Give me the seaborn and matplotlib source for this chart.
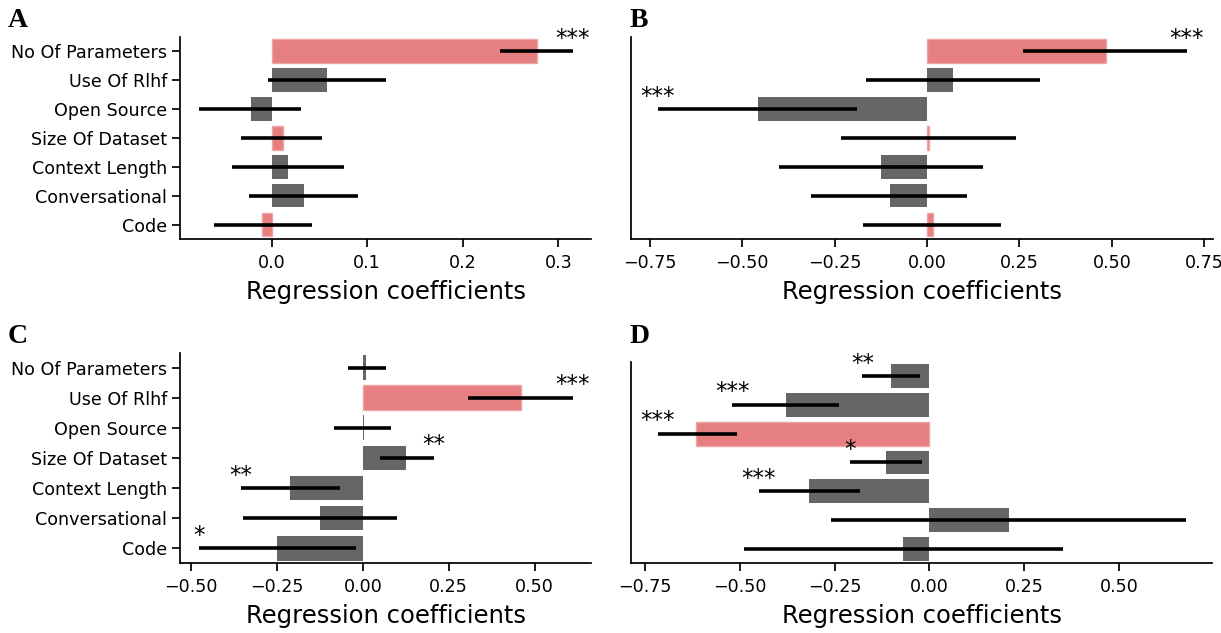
import numpy as np
import pandas as pd
import matplotlib
matplotlib.use("Agg")
import matplotlib.pyplot as plt
from matplotlib.ticker import MultipleLocator
import seaborn as sns

predictors = ["No Of Parameters", "Use Of Rlhf", "Open Source", "Size Of Dataset",
              "Context Length", "Conversational", "Code"]

# Panel A
a_coef = [0.278, 0.058, -0.022, 0.012, 0.017, 0.034, -0.010]
a_low = [0.239, -0.004, -0.076, -0.032, -0.041, -0.024, -0.060]
a_high = [0.315, 0.120, 0.031, 0.053, 0.076, 0.090, 0.042]
a_stars = ["***", "", "", "", "", "", ""]
a_red = ["No Of Parameters", "Size Of Dataset", "Code"]

# Panel B
b_coef = [0.484, 0.070, -0.456, 0.006, -0.124, -0.101, 0.015]
b_low = [0.259, -0.166, -0.728, -0.232, -0.400, -0.314, -0.173]
b_high = [0.702, 0.305, -0.188, 0.240, 0.152, 0.108, 0.201]
b_stars = ["***", "", "***", "", "", "", ""]
b_red = ["No Of Parameters", "Size Of Dataset", "Code"]

# Panel C
c_coef = [0.010, 0.461, 0.002, 0.127, -0.212, -0.125, -0.250]
c_low = [-0.044, 0.307, -0.085, 0.049, -0.356, -0.350, -0.477]
c_high = [0.066, 0.611, 0.083, 0.206, -0.067, 0.099, -0.020]
c_stars = ["", "***", "", "**", "**", "", "*"]
c_red = ["Use Of Rlhf"]

# Panel D
d_coef = [-0.101, -0.379, -0.615, -0.115, -0.318, 0.210, -0.070]
d_low = [-0.177, -0.521, -0.717, -0.209, -0.450, -0.261, -0.490]
d_high = [-0.026, -0.238, -0.508, -0.019, -0.183, 0.676, 0.353]
d_stars = ["**", "***", "***", "*", "***", "", ""]
d_red = ["Open Source"]

panel_letters = ["A", "B", "C", "D"]
tick_steps = [0.1, 0.25, 0.25, 0.25]

RED = "#E67F80"
RED_EDGE = "#EFA5A5"
GRAY = "#666666"

sns.set_theme(style="ticks")
plt.rcParams["font.family"] = ["DejaVu Sans"]
plt.rcParams["axes.edgecolor"] = "black"
plt.rcParams["axes.linewidth"] = 1.25
plt.rcParams["xtick.color"] = "black"
plt.rcParams["ytick.color"] = "black"
plt.rcParams["xtick.major.width"] = 1.25
plt.rcParams["ytick.major.width"] = 1.25
plt.rcParams["xtick.major.size"] = 6
plt.rcParams["ytick.major.size"] = 6
plt.rcParams["xtick.major.pad"] = 4.5

W, H = 1221, 633
fig = plt.figure(figsize=(W / 100, H / 100), dpi=100)

def rect(left, right, top, bottom):
    return [left / W, 1 - bottom / H, (right - left) / W, (bottom - top) / H]

axes = [
    fig.add_axes(rect(180.3, 591.4, 36.7, 239.0)),
    fig.add_axes(rect(631.4, 1213.0, 36.7, 239.0)),
    fig.add_axes(rect(180.3, 591.4, 352.5, 563.3)),
    fig.add_axes(rect(631.4, 1212.0, 361.7, 563.3)),
]

panels = [
    (a_coef, a_low, a_high, a_stars, a_red, True),
    (b_coef, b_low, b_high, b_stars, b_red, False),
    (c_coef, c_low, c_high, c_stars, c_red, True),
    (d_coef, d_low, d_high, d_stars, d_red, False),
]

for ax, step, (coef, low, high, stars, red, show_y) in zip(axes, tick_steps, panels):
    df = pd.DataFrame({"predictor": predictors, "coef": coef,
                       "low": low, "high": high, "stars": stars})
    palette = {p: (RED if p in red else GRAY) for p in predictors}
    sns.barplot(data=df, x="coef", y="predictor", hue="predictor",
                palette=palette, order=predictors, hue_order=predictors,
                orient="h", legend=False, saturation=1, width=0.82,
                errorbar=None, ax=ax)
    for p in ax.patches:
        idx = int(round(p.get_y() + p.get_height() / 2))
        if predictors[idx] in red:
            p.set_edgecolor(RED_EDGE)
            p.set_linewidth(1.0)
        else:
            p.set_linewidth(0)
    pos = np.arange(len(predictors))
    c = df["coef"].to_numpy()
    xerr = np.vstack([c - df["low"].to_numpy(), df["high"].to_numpy() - c])
    ax.errorbar(c, pos, xerr=xerr, fmt="none", ecolor="black",
                elinewidth=2.6, capsize=0, zorder=4)
    for i, row in df.iterrows():
        if row["stars"]:
            xe = row["high"] if row["coef"] > 0 else row["low"]
            ax.text(xe, i - 0.05, row["stars"], ha="center", va="bottom",
                    fontsize=16.5, color="black", zorder=5)
    ax.margins(x=0.05)
    ax.autoscale(axis="x")
    ax.xaxis.set_major_locator(MultipleLocator(step))
    ax.set_ylim(len(predictors) - 0.5, -0.5)
    ax.set_ylabel("")
    ax.set_xlabel("Regression coefficients", fontsize=17.5, color="black",
                  labelpad=6)
    ax.tick_params(axis="both", labelsize=12.6)
    if not show_y:
        ax.tick_params(axis="y", left=False, labelleft=False)
    sns.despine(ax=ax)

letter_pos = [(8, 27), (630, 27), (8, 342.5), (630, 342.5)]
for letter, (lx, ly) in zip(panel_letters, letter_pos):
    fig.text(lx / W, 1 - ly / H, letter, fontsize=20, fontweight="bold",
             family=["Liberation Serif", "DejaVu Serif"], va="baseline",
             ha="left", color="black")

fig.savefig("out.png", dpi=100)
